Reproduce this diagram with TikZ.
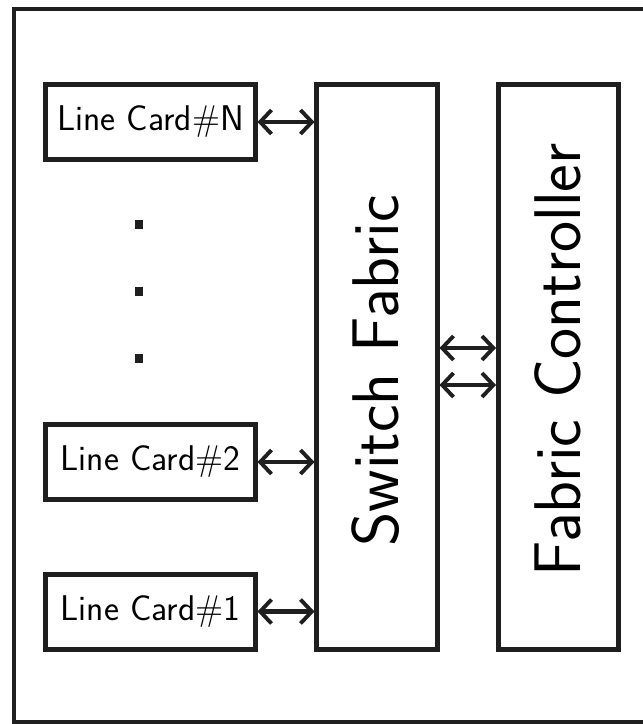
\documentclass[tikz,border=0pt]{standalone}
\usetikzlibrary{arrows.meta}
\begin{document}
\begin{tikzpicture}[x=0.75pt,y=-0.75pt,
  box/.style={draw=black!88, line width=3.75pt, inner sep=0pt, minimum width=0pt},
  conn/.style={draw=black!88, line width=3.6pt,
    {Straight Barb[length=8.5pt,width=18pt,line width=2.9pt]}-{Straight Barb[length=8.5pt,width=18pt,line width=2.9pt]}},
  small/.style={font=\sffamily\fontsize{26.8}{32}\selectfont},
  big/.style={font=\sffamily\fontsize{49.5}{58}\selectfont, rotate=90}
]
\useasboundingbox (0,0) rectangle (642,724);
% outer frame (right side lies beyond the picture)
\draw[black!88, line width=3pt] (660,9.5) -- (13.5,9.5) -- (13.5,721.5) -- (660,721.5);
% line cards
\draw[box] (45.5,84.5) rectangle (255.5,159.5);
\node[small] (lcn) at (150.5,122) {Line Card\#N};
\draw[box] (45.5,424.5) rectangle (255.5,499.5);
\node[small] (lc2) at (150.5,462) {Line Card\#2};
\draw[box] (45.5,574.5) rectangle (255.5,649.5);
\node[small] (lc1) at (150.5,612) {Line Card\#1};
% switch fabric and controller
\draw[box] (316.5,84.5) rectangle (437.5,649.5);
\node[big] (sf) at (376,371) {Switch Fabric};
\draw[box] (498,84.5) rectangle (618,649.5);
\node[big] (fc) at (558,360) {Fabric Controller};
% anchor coordinates on box edges
\coordinate (lcnR) at (257.5,122);
\coordinate (lc2R) at (257.5,462);
\coordinate (lc1R) at (257.5,611.5);
\coordinate (sfLn) at (314.5,122);
\coordinate (sfL2) at (314.5,462);
\coordinate (sfL1) at (314.5,611.5);
\coordinate (sfRa) at (439.5,348);
\coordinate (sfRb) at (439.5,385);
\coordinate (fcLa) at (496,348);
\coordinate (fcLb) at (496,385);
\draw[conn] (lcnR) -- (sfLn);
\draw[conn] (lc2R) -- (sfL2);
\draw[conn] (lc1R) -- (sfL1);
\draw[conn, line width=3pt] (sfRa) -- (fcLa);
\draw[conn, line width=3pt] (sfRb) -- (fcLb);
% dots
\fill[black!88] (135,219.5) rectangle (143,228.5);
\fill[black!88] (135,286.5) rectangle (143,295.5);
\fill[black!88] (135,353.5) rectangle (143,362.5);
\end{tikzpicture}
\end{document}
